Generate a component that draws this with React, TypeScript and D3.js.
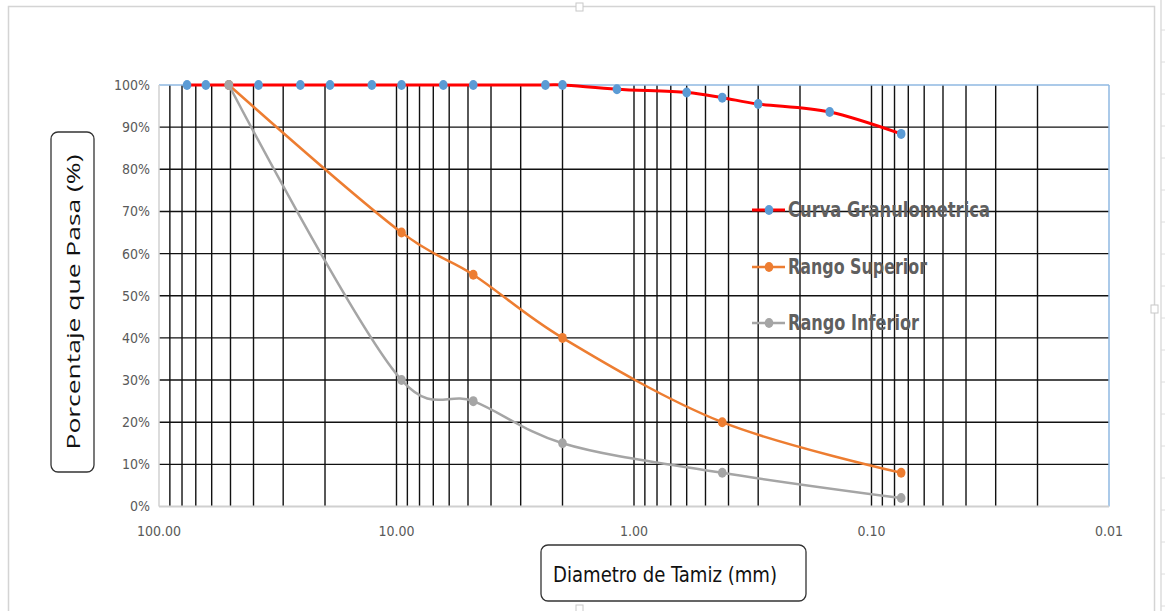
import * as d3 from "d3";
import React, {useRef, useEffect} from "react";

// sieve openings (mm) of the measured curve
const sieveSizes = [76.2, 63.5, 50.8, 38.1, 25.4, 19.05, 12.7, 9.525, 6.35, 4.75, 2.36, 2.0, 1.18, 0.6, 0.425, 0.3, 0.15, 0.075];
const curvaValues = [100, 100, 100, 100, 100, 100, 100, 100, 100, 100, 100, 100, 99.0, 98.2, 97.0, 95.5, 93.6, 88.4];

// limits of the band
const rangoSizes = [50.8, 9.525, 4.75, 2.0, 0.425, 0.075];
const superiorValues = [100, 65, 55, 40, 20, 8];
const inferiorValues = [100, 30, 25, 15, 8, 2];

const xTickValues = [100, 10, 1, 0.1, 0.01];
const xTickLabels = ["100.00", "10.00", "1.00", "0.10", "0.01"];
const yTickValues = [0, 10, 20, 30, 40, 50, 60, 70, 80, 90, 100];

const seriesNames = ["Curva Granulometrica", "Rango Superior", "Rango Inferior"];

const labelFont = "'Liberation Sans Narrow', 'DejaVu Sans Condensed', Roboto, sans-serif";

function App() {

    const ref = useRef<HTMLDivElement>(null);

    useEffect(() => {

        const container = d3.select(ref.current);
        container.selectAll("*").remove();

        const width = 1165;
        const height = 611;

        const svg = container.append("svg")
            .attr("width", width)
            .attr("height", height)
            .style("position", "absolute")
            .style("left", "0px")
            .style("top", "0px")
            .style("background", "#fff");

        const left = 159, right = 1109, top = 85, bottom = 506.5;

        const x = d3.scaleLog()
            .domain([100, 0.01])
            .range([left, right]);

        const y = d3.scaleLinear()
            .domain([0, 100])
            .range([bottom, top]);

        // chart area frame + excel handles
        svg.append("rect")
            .attr("x", 8.5).attr("y", 6.5)
            .attr("width", 1146).attr("height", 620)
            .attr("fill", "#fff")
            .attr("stroke", "#d4d4d4")
            .attr("stroke-width", 1.5);

        svg.append("line")
            .attr("x1", 1161).attr("x2", 1161)
            .attr("y1", 0).attr("y2", height)
            .attr("stroke", "#dcdcdc")
            .attr("stroke-width", 1.5);

        svg.selectAll(".rowTick")
            .data(d3.range(30, height, 32))
            .enter().append("line")
            .attr("class", "rowTick")
            .attr("x1", 1161).attr("x2", 1165)
            .attr("y1", d => d).attr("y2", d => d)
            .attr("stroke", "#dcdcdc");

        const handles = [[576, 3], [1151, 305], [576, 605]];
        svg.selectAll(".handle")
            .data(handles)
            .enter().append("rect")
            .attr("class", "handle")
            .attr("x", d => d[0]).attr("y", d => d[1])
            .attr("width", 7).attr("height", 8)
            .attr("fill", "#fff")
            .attr("stroke", "#c8c8c8");

        // grid
        const minor = x.ticks().filter(d => d < 100 && d > 0.01);

        svg.append("g")
            .selectAll("line")
            .data(minor)
            .enter().append("line")
            .attr("x1", d => x(d)).attr("x2", d => x(d))
            .attr("y1", top).attr("y2", bottom)
            .attr("stroke", "#111")
            .attr("stroke-width", 1.4);

        svg.append("g")
            .selectAll("line")
            .data(yTickValues.filter(d => d > 0 && d < 100))
            .enter().append("line")
            .attr("x1", left).attr("x2", right)
            .attr("y1", d => y(d)).attr("y2", d => y(d))
            .attr("stroke", "#111")
            .attr("stroke-width", 1.4);

        // plot borders
        svg.append("line")
            .attr("x1", left).attr("x2", right).attr("y1", top).attr("y2", top)
            .attr("stroke", "#8fb8e2").attr("stroke-width", 1.5);
        svg.append("line")
            .attr("x1", right).attr("x2", right).attr("y1", top).attr("y2", bottom)
            .attr("stroke", "#8fb8e2").attr("stroke-width", 1.5);
        svg.append("line")
            .attr("x1", left).attr("x2", left).attr("y1", top).attr("y2", bottom)
            .attr("stroke", "#d0d0d0").attr("stroke-width", 1.5);
        svg.append("line")
            .attr("x1", left).attr("x2", right).attr("y1", bottom).attr("y2", bottom)
            .attr("stroke", "#d0d0d0").attr("stroke-width", 2);

        // tick labels
        svg.append("g")
            .selectAll("text")
            .data(yTickValues)
            .enter().append("text")
            .attr("x", 150)
            .attr("y", d => y(d))
            .attr("dy", "0.35em")
            .attr("text-anchor", "end")
            .attr("font-family", labelFont)
            .attr("font-size", 14)
            .attr("fill", "#595959")
            .text(d => d + "%");

        svg.append("g")
            .selectAll("text")
            .data(xTickValues)
            .enter().append("text")
            .attr("x", d => x(d))
            .attr("y", 531)
            .attr("dy", "0.35em")
            .attr("text-anchor", "middle")
            .attr("font-family", labelFont)
            .attr("font-size", 14)
            .attr("fill", "#595959")
            .text((d, i) => xTickLabels[i]);

        // series (excel-like smoothing)
        const line = d3.line<[number, number]>()
            .x(d => x(d[0]))
            .y(d => y(d[1]))
            .curve(d3.curveCatmullRom.alpha(0.2));

        const series = [
            {name: seriesNames[0], pts: sieveSizes.map((s, i) => [s, curvaValues[i]] as [number, number]), line: "#ff0000", marker: "#5b9bd5", lw: 3},
            {name: seriesNames[1], pts: rangoSizes.map((s, i) => [s, superiorValues[i]] as [number, number]), line: "#ed7d31", marker: "#ed7d31", lw: 2.5},
            {name: seriesNames[2], pts: rangoSizes.map((s, i) => [s, inferiorValues[i]] as [number, number]), line: "#a5a5a5", marker: "#a5a5a5", lw: 2.5},
        ];

        series.forEach(s => {
            svg.append("path")
                .datum(s.pts)
                .attr("d", line)
                .attr("fill", "none")
                .attr("stroke", s.line)
                .attr("stroke-width", s.lw)
                .attr("stroke-linejoin", "round");

            svg.append("g")
                .selectAll("ellipse")
                .data(s.pts)
                .enter().append("ellipse")
                .attr("cx", d => x(d[0]))
                .attr("cy", d => y(d[1]))
                .attr("rx", 4.3)
                .attr("ry", 5)
                .attr("fill", s.marker);
        });

        // legend
        const legendY = [210, 267, 323];
        const legendW = [202, 139, 131];

        const legend = svg.append("g")
            .selectAll(".legendLine")
            .data(series)
            .enter().append("g")
            .attr("class", "legendLine")
            .attr("transform", (d, i) => `translate(752, ${legendY[i]})`);

        legend.append("line")
            .attr("x1", 0).attr("x2", 33)
            .attr("y1", 0).attr("y2", 0)
            .attr("stroke", d => d.line)
            .attr("stroke-width", d => d.lw);

        legend.append("ellipse")
            .attr("cx", 17).attr("cy", 0)
            .attr("rx", 4.3).attr("ry", 5)
            .attr("fill", d => d.marker);

        legend.append("text")
            .attr("x", 36)
            .attr("y", 0)
            .attr("dy", "0.35em")
            .attr("font-family", labelFont)
            .attr("font-weight", "bold")
            .attr("font-size", 21)
            .attr("fill", "#5f5f5f")
            .attr("textLength", (d, i) => legendW[i])
            .attr("lengthAdjust", "spacingAndGlyphs")
            .text(d => d.name);

        // axis titles in rounded boxes
        svg.append("rect")
            .attr("x", 51).attr("y", 132)
            .attr("width", 43).attr("height", 340)
            .attr("rx", 7)
            .attr("fill", "#fff")
            .attr("stroke", "#333")
            .attr("stroke-width", 1.3);

        svg.append("text")
            .attr("transform", "translate(73, 302) rotate(-90)")
            .attr("text-anchor", "middle")
            .attr("dy", "0.35em")
            .attr("font-family", "'Open Sans', 'Noto Sans', sans-serif")
            .attr("font-size", 19)
            .attr("fill", "#111")
            .attr("textLength", 295)
            .attr("lengthAdjust", "spacingAndGlyphs")
            .text("Porcentaje que Pasa (%)");

        svg.append("rect")
            .attr("x", 541).attr("y", 545)
            .attr("width", 265).attr("height", 56)
            .attr("rx", 7)
            .attr("fill", "#fff")
            .attr("stroke", "#333")
            .attr("stroke-width", 1.3);

        svg.append("text")
            .attr("x", 553)
            .attr("y", 574)
            .attr("dy", "0.35em")
            .attr("font-family", labelFont)
            .attr("font-size", 22)
            .attr("fill", "#111")
            .attr("textLength", 224)
            .attr("lengthAdjust", "spacingAndGlyphs")
            .text("Diametro de Tamiz (mm)");

    }, []);

    return (
        <div ref={ref} />
    );
}

export default App;
